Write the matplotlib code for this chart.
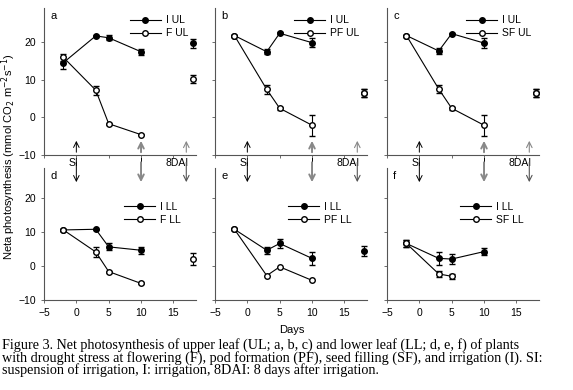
import matplotlib.pyplot as plt
from matplotlib.lines import Line2D
import numpy as np

# days of measurement
days = [-2, 3, 5, 10]
day_8dai = [18]

# upper leaf (a, b, c)
i_ul_a = [14.5, 21.6, 21.1, 17.4]
i_ul_a_err = [1.6, 0.3, 0.7, 0.8]
f_ul = [15.9, 7.2, -1.7, -4.6]
f_ul_err = [1.0, 1.2, 0.3, 0.2]
i_ul_a_8 = [19.6]
i_ul_a_8_err = [1.3]
f_ul_8 = [10.1]
f_ul_8_err = [1.1]

i_ul_b = [21.7, 17.4, 22.3, 19.8]
i_ul_b_err = [0.2, 0.7, 0.2, 1.2]
pf_ul = [21.7, 7.4, 2.4, -2.1]
pf_ul_err = [0.2, 1.1, 0.4, 2.8]
ul_b_8 = [6.5]
ul_b_8_err = [1.0]

i_ul_c = [21.7, 17.6, 22.2, 19.7]
i_ul_c_err = [0.2, 0.7, 0.2, 1.3]
sf_ul = [21.7, 7.5, 2.4, -2.1]
sf_ul_err = [0.2, 1.1, 0.4, 2.8]
ul_c_8 = [6.5]
ul_c_8_err = [1.0]

# lower leaf (d, e, f)
i_ll_d = [10.7, 10.9, 5.7, 4.7]
i_ll_d_err = [0.2, 0.2, 1.0, 1.0]
f_ll = [10.7, 4.2, -1.6, -5.1]
f_ll_err = [0.2, 1.6, 0.3, 0.3]
f_ll_8 = [2.1]
f_ll_8_err = [1.8]

i_ll_e = [10.9, 4.7, 6.7, 2.3]
i_ll_e_err = [0.3, 1.0, 1.2, 2.0]
pf_ll = [10.9, -2.8, -0.2, -4.2]
i_ll_e_8 = [4.5]
i_ll_e_8_err = [1.5]

i_ll_f = [6.7, 2.3, 2.1, 4.3]
i_ll_f_err = [1.0, 2.0, 1.5, 1.0]
sf_ll = [6.7, -2.3, -3.0]
sf_ll_err = [1.0, 1.0, 0.8]

event_days = [0, 10, 17]
event_labels = ['SI', 'I', '8DAI']

panels = [
    ('a', 'I UL', 'F UL', i_ul_a, i_ul_a_err, f_ul, f_ul_err),
    ('b', 'I UL', 'PF UL', i_ul_b, i_ul_b_err, pf_ul, pf_ul_err),
    ('c', 'I UL', 'SF UL', i_ul_c, i_ul_c_err, sf_ul, sf_ul_err),
    ('d', 'I LL', 'F LL', i_ll_d, i_ll_d_err, f_ll, f_ll_err),
    ('e', 'I LL', 'PF LL', i_ll_e, i_ll_e_err, pf_ll, None),
    ('f', 'I LL', 'SF LL', i_ll_f, i_ll_f_err, sf_ll, sf_ll_err),
]

plt.rcParams['font.family'] = ['Liberation Sans', 'DejaVu Sans']
fig = plt.figure(figsize=(5.73, 3.9), dpi=100)

lefts = [44 / 573, 215 / 573, 387 / 573]
w = 152 / 573
top_row = (1 - 155 / 390, 147 / 390)
bot_row = (1 - 300 / 390, 132 / 390)

grey = '#888888'
axes = []
for k, (letter, lab1, lab2, y1, e1, y2, e2) in enumerate(panels):
    row = top_row if k < 3 else bot_row
    ax = fig.add_axes([lefts[k % 3], row[0], w, row[1]])
    axes.append(ax)
    ax.errorbar(days, y1, yerr=e1, fmt='-o', color='black', ms=4, lw=0.8,
                elinewidth=0.8, capsize=2, mfc='black', clip_on=False)
    ax.errorbar(days[:len(y2)], y2, yerr=e2, fmt='-o', color='black', ms=4, lw=0.8,
                elinewidth=0.8, capsize=2, mfc='white', clip_on=False, zorder=3)
    handles = [Line2D([], [], color='black', lw=0.8, marker='o', ms=4, mfc='black'),
               Line2D([], [], color='black', lw=0.8, marker='o', ms=4, mfc='white')]
    ax.set_xlim(-5, 18.5)
    ax.set_ylim(-10, 29)
    ax.set_yticks([-10, 0, 10, 20])
    for s in ['top', 'right']:
        ax.spines[s].set_visible(False)
    for s in ['left', 'bottom']:
        ax.spines[s].set_color('#555555')
        ax.spines[s].set_linewidth(0.8)
    ax.tick_params(labelsize=7.5, length=2.5, width=0.6, color='#555555')
    ax.text(0.04, 0.98, letter, transform=ax.transAxes, fontsize=8, va='top')
    if k % 3 != 0:
        ax.set_yticklabels([])
    ax.set_xticks([-5, 0, 5, 10, 15])
    if k < 3:
        ax.set_xticklabels([])
        for d, lab in zip(event_days, event_labels):
            ax.text(d + 0.3, -10.8, lab, ha='right', va='top', fontsize=7.5)
        for d, c, lw in zip(event_days, ['black', grey, grey], [0.7, 1.4, 0.8]):
            ax.annotate('', xy=(d, -5.5), xytext=(d, -10),
                        arrowprops=dict(arrowstyle='->', color=c, lw=lw))
        ax.legend(handles, [lab1, lab2], loc='upper right', bbox_to_anchor=(1.0, 1.0),
                  frameon=False, fontsize=7.5, handlelength=3, labelspacing=0.3,
                  borderpad=0.2, handletextpad=0.5)
    else:
        for d, c, lw in zip(event_days, ['black', grey, '#555555'], [0.7, 1.4, 0.8]):
            ax.annotate('', xy=(d, 24.0), xytext=(d, 31.5),
                        arrowprops=dict(arrowstyle='->', color=c, lw=lw),
                        annotation_clip=False)
        ax.legend(handles, [lab1, lab2], loc='upper right', bbox_to_anchor=(0.95, 0.8),
                  frameon=False, fontsize=7.5, handlelength=3, labelspacing=0.3,
                  borderpad=0.2, handletextpad=0.5)


# 8 days after irrigation points
def point(ax, y, e, filled):
    ax.errorbar(day_8dai, y, yerr=e, fmt='o', color='black', ms=4, elinewidth=0.8,
                capsize=2, mfc='black' if filled else 'white', clip_on=False, zorder=4)


point(axes[0], i_ul_a_8, i_ul_a_8_err, True)
point(axes[0], f_ul_8, f_ul_8_err, False)
point(axes[1], ul_b_8, ul_b_8_err, True)
point(axes[1], ul_b_8, ul_b_8_err, False)
point(axes[2], ul_c_8, ul_c_8_err, True)
point(axes[2], ul_c_8, ul_c_8_err, False)
point(axes[3], f_ll_8, f_ll_8_err, False)
point(axes[4], i_ll_e_8, i_ll_e_8_err, True)

fig.text(0.016, 1 - 157 / 390, 'Neta photosynthesis (mmol CO$_2$ m$^{-2}$s$^{-1}$)',
         rotation=90, ha='center', va='center', fontsize=8)
fig.text(292 / 573, 1 - 330 / 390, 'Days', ha='center', va='center', fontsize=8)

caption = ['Figure 3. Net photosynthesis of upper leaf (UL; a, b, c) and lower leaf (LL; d, e, f) of plants',
           'with drought stress at flowering (F), pod formation (PF), seed filling (SF), and irrigation (I). SI:',
           'suspension of irrigation, I: irrigation, 8DAI: 8 days after irrigation.']
for i, line in enumerate(caption):
    fig.text(2 / 573, 1 - (345 + i * 12.7) / 390, line, ha='left', va='center',
             fontsize=10.2, family=['Liberation Serif', 'DejaVu Serif'])

fig.savefig('out.png', dpi=100)
